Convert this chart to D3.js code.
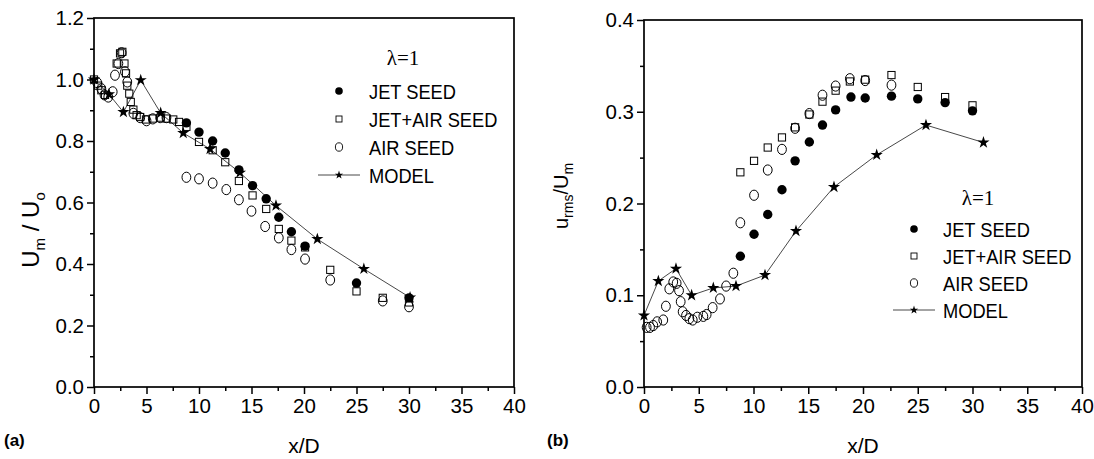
<!DOCTYPE html>
<html>
<head>
<meta charset="utf-8">
<script src="https://cdn.jsdelivr.net/npm/d3@7"></script>
<style>
  body { margin: 0; background: #fff; }
  svg { display: block; font-family: "Liberation Sans", Arial, sans-serif; }
  .tick text { font-size: 20.5px; fill: #000; }
  .lg { font-size: 21px; }
</style>
</head>
<body>
<svg width="1094" height="459"></svg>
<script>
// ---- panel (a): centreline velocity decay ----
const aJetX = [8.8, 10.0, 11.3, 12.5, 13.8, 15.1, 16.4, 17.6, 18.8, 20.1, 25.0, 30.0];
const aJetY = [0.859, 0.829, 0.800, 0.761, 0.706, 0.655, 0.612, 0.552, 0.505, 0.458, 0.338, 0.29];

const aJetAirX = [0, 0.4, 0.7, 1.05, 2.16, 2.48, 2.7, 2.9, 3.05, 3.17, 3.36, 3.5, 3.75, 4.06, 4.4, 4.95, 5.6, 6.35, 6.9, 7.55, 8.1, 8.8,
                  10.0, 11.3, 12.5, 13.8, 15.1, 16.4, 17.6, 18.8, 20.1, 22.5, 25.0, 27.5, 30.0];
const aJetAirY = [1.0, 0.98, 0.965, 0.95, 1.052, 1.085, 1.09, 1.052, 1.02, 0.98, 0.954, 0.927, 0.902, 0.884, 0.878, 0.870, 0.873, 0.876, 0.873, 0.870, 0.862, 0.846,
                  0.797, 0.770, 0.731, 0.670, 0.623, 0.579, 0.514, 0.476, 0.454, 0.381, 0.311, 0.29, 0.275];

const aAirX = [0.3, 0.7, 1.0, 1.36, 1.78, 2.0, 2.32, 2.63, 2.95, 3.17, 3.75, 4.4, 5.0, 5.6, 6.3, 6.9,
               8.8, 10.0, 11.3, 12.6, 13.8, 15.0, 16.3, 17.6, 18.8, 20.1, 22.5, 27.5, 30.0];
const aAirY = [0.99, 0.97, 0.95, 0.943, 0.96, 1.014, 1.052, 1.087, 1.025, 0.992, 0.89, 0.876, 0.866, 0.872, 0.876, 0.876,
               0.682, 0.677, 0.663, 0.642, 0.609, 0.572, 0.522, 0.485, 0.447, 0.416, 0.348, 0.280, 0.261];

const aModelX = [0, 1.43, 2.8, 4.45, 6.35, 8.5, 11.05, 13.9, 17.33, 21.27, 25.7, 30.1];
const aModelY = [1.0, 0.952, 0.894, 0.998, 0.891, 0.826, 0.774, 0.697, 0.590, 0.481, 0.384, 0.291];

// ---- panel (b): turbulence intensity ----
const bJetX = [8.8, 10.05, 11.3, 12.6, 13.8, 15.1, 16.3, 17.5, 18.9, 20.2, 22.6, 25.0, 27.5, 30.0];
const bJetY = [0.1425, 0.1665, 0.188, 0.215, 0.2465, 0.267, 0.2855, 0.302, 0.316, 0.315, 0.317, 0.314, 0.310, 0.301];

const bJetAirX = [8.8, 10.05, 11.3, 12.6, 13.8, 15.1, 16.3, 17.5, 18.8, 20.2, 22.6, 25.0, 27.5, 30.0];
const bJetAirY = [0.234, 0.2465, 0.261, 0.272, 0.283, 0.297, 0.311, 0.323, 0.333, 0.335, 0.340, 0.327, 0.316, 0.307];

const bAirX = [0.24, 0.55, 0.85, 1.2, 1.76, 2.0, 2.31, 2.67, 2.98, 3.2, 3.35, 3.53, 3.84, 4.14, 4.45, 4.87, 5.42, 5.72, 6.27, 6.94, 7.5, 8.16,
               8.8, 10.05, 11.3, 12.6, 13.8, 15.1, 16.3, 17.5, 18.8, 20.2, 22.6];
const bAirY = [0.065, 0.065, 0.067, 0.071, 0.073, 0.088, 0.107, 0.1145, 0.113, 0.105, 0.093, 0.082, 0.078, 0.0745, 0.073, 0.076, 0.077, 0.079, 0.0865, 0.096, 0.110, 0.124,
               0.179, 0.209, 0.2365, 0.259, 0.282, 0.298, 0.318, 0.328, 0.336, 0.334, 0.329];

const bModelX = [0, 1.31, 2.92, 4.35, 6.33, 8.4, 11.05, 13.88, 17.35, 21.25, 25.75, 31.0];
const bModelY = [0.078, 0.1155, 0.129, 0.100, 0.108, 0.110, 0.122, 0.170, 0.218, 0.253, 0.2855, 0.2665];

const xTicks = [0, 5, 10, 15, 20, 25, 30, 35, 40];
const aYTicks = [0.0, 0.2, 0.4, 0.6, 0.8, 1.0, 1.2];
const bYTicks = [0.0, 0.1, 0.2, 0.3, 0.4];
const legendNames = ["JET SEED", "JET+AIR SEED", "AIR SEED", "MODEL"];

const zip = (xs, ys) => xs.map((x, i) => [x, ys[i]]);

const svg = d3.select("svg");

function panel(opt) {
    const x = d3.scaleLinear().domain([0, 40]).range([opt.left, opt.right]);
    const y = d3.scaleLinear().domain(opt.yDomain).range([opt.bottom, opt.top]);
    const g = svg.append("g");

    // frame
    g.append("rect")
        .attr("x", opt.left).attr("y", opt.top)
        .attr("width", opt.right - opt.left).attr("height", opt.bottom - opt.top)
        .attr("fill", "none").attr("stroke", "#000").attr("stroke-width", 1.7);

    // minor ticks first, then major with labels
    g.append("g").attr("transform", `translate(0,${opt.bottom})`)
        .call(d3.axisBottom(x).tickValues(d3.range(2.5, 40, 5)).tickSize(4).tickFormat(""))
        .call(s => s.select(".domain").remove());
    g.append("g").attr("transform", `translate(0,${opt.bottom})`)
        .call(d3.axisBottom(x).tickValues(xTicks).tickSize(7).tickPadding(4).tickFormat(d3.format("d")))
        .call(s => s.select(".domain").remove());
    g.append("g").attr("transform", `translate(${opt.left},0)`)
        .call(d3.axisLeft(y).tickValues(opt.yMinor).tickSize(4).tickFormat(""))
        .call(s => s.select(".domain").remove());
    g.append("g").attr("transform", `translate(${opt.left},0)`)
        .call(d3.axisLeft(y).tickValues(opt.yTicks).tickSize(7).tickPadding(3).tickFormat(d3.format(".1f")))
        .call(s => s.select(".domain").remove());
    g.selectAll(".tick line").attr("stroke-width", 1.5);

    // model line
    const model = zip(opt.modelX, opt.modelY);
    g.append("path").datum(model)
        .attr("fill", "none").attr("stroke", "#333").attr("stroke-width", 0.9)
        .attr("d", d3.line().x(d => x(d[0])).y(d => y(d[1])));

    g.selectAll(".jet").data(zip(opt.jetX, opt.jetY)).join("circle")
        .attr("cx", d => x(d[0])).attr("cy", d => y(d[1])).attr("r", 4.7).attr("fill", "#000");
    g.selectAll(".sq").data(zip(opt.jetAirX, opt.jetAirY)).join("rect")
        .attr("x", d => x(d[0]) - 3.6).attr("y", d => y(d[1]) - 3.6).attr("width", 7.2).attr("height", 7.2)
        .attr("fill", "none").attr("stroke", "#000").attr("stroke-width", 1);
    g.selectAll(".air").data(zip(opt.airX, opt.airY)).join("ellipse")
        .attr("cx", d => x(d[0])).attr("cy", d => y(d[1])).attr("rx", 4.4).attr("ry", 5.1)
        .attr("fill", "none").attr("stroke", "#000").attr("stroke-width", 1);
    g.selectAll(".star").data(model).join("path")
        .attr("transform", d => `translate(${x(d[0])},${y(d[1])})`)
        .attr("d", d3.symbol(d3.symbolStar, 46)).attr("fill", "#000");

    // legend
    const L = opt.legend;
    g.append("text").attr("x", L.lamX).attr("y", L.lamY)
        .attr("font-family", "'Liberation Serif', 'Times New Roman', serif").attr("font-size", 21)
        .attr("text-anchor", "middle").text("λ=1");
    legendNames.forEach((name, i) => {
        const yy = L.y0 + i * L.dy;
        g.append("text").attr("class", "lg")
            .attr("transform", `translate(${L.tx},${yy}) scale(0.87,1)`)
            .attr("dy", "0.36em").text(name);
        if (i === 0) g.append("circle").attr("cx", L.mx).attr("cy", yy).attr("r", 3.8).attr("fill", "#000");
        if (i === 1) g.append("rect").attr("x", L.mx - 3).attr("y", yy - 3).attr("width", 6).attr("height", 6)
            .attr("fill", "none").attr("stroke", "#000").attr("stroke-width", 0.9);
        if (i === 2) g.append("ellipse").attr("cx", L.mx).attr("cy", yy).attr("rx", 3.6).attr("ry", 4.2)
            .attr("fill", "none").attr("stroke", "#000").attr("stroke-width", 0.9);
        if (i === 3) {
            g.append("line").attr("x1", L.mx - 21).attr("x2", L.mx + 21).attr("y1", yy).attr("y2", yy)
                .attr("stroke", "#333").attr("stroke-width", 0.9);
            g.append("path").attr("transform", `translate(${L.mx},${yy})`)
                .attr("d", d3.symbol(d3.symbolStar, 22)).attr("fill", "#000");
        }
    });

    // x title
    g.append("text").attr("x", (opt.left + opt.right) / 2).attr("y", 453)
        .attr("text-anchor", "middle").attr("font-size", 21).text("x/D");
}

panel({
    left: 94, right: 514, top: 18, bottom: 387,
    yDomain: [0, 1.2], yTicks: aYTicks, yMinor: d3.range(0.1, 1.2, 0.2),
    jetX: aJetX, jetY: aJetY, jetAirX: aJetAirX, jetAirY: aJetAirY,
    airX: aAirX, airY: aAirY, modelX: aModelX, modelY: aModelY,
    legend: { lamX: 403, lamY: 65, mx: 339, tx: 369, y0: 91, dy: 28 }
});

panel({
    left: 644, right: 1082, top: 20, bottom: 387,
    yDomain: [0, 0.4], yTicks: bYTicks, yMinor: d3.range(0.05, 0.4, 0.1),
    jetX: bJetX, jetY: bJetY, jetAirX: bJetAirX, jetAirY: bJetAirY,
    airX: bAirX, airY: bAirY, modelX: bModelX, modelY: bModelY,
    legend: { lamX: 978, lamY: 205, mx: 914, tx: 943, y0: 229, dy: 27 }
});

// y titles
const ta = svg.append("text").attr("transform", "translate(39,230) rotate(-90)")
    .attr("text-anchor", "middle").attr("font-size", 24);
ta.append("tspan").text("U");
ta.append("tspan").attr("font-size", 15).attr("dy", 6).text("m");
ta.append("tspan").attr("dy", -6).text(" / U");
ta.append("tspan").attr("font-size", 15).attr("dy", 6).text("o");

const tb = svg.append("text").attr("transform", "translate(568,196) rotate(-90)")
    .attr("text-anchor", "middle").attr("font-size", 20);
tb.append("tspan").text("u");
tb.append("tspan").attr("font-size", 14).attr("dy", 5).text("rms");
tb.append("tspan").attr("dy", -5).text("/U");
tb.append("tspan").attr("font-size", 14).attr("dy", 5).text("m");

// panel letters
svg.append("text").attr("x", 4).attr("y", 446).attr("font-size", 17).attr("font-weight", "bold").text("(a)");
svg.append("text").attr("x", 547).attr("y", 446).attr("font-size", 17).attr("font-weight", "bold").text("(b)");
</script>
</body>
</html>
